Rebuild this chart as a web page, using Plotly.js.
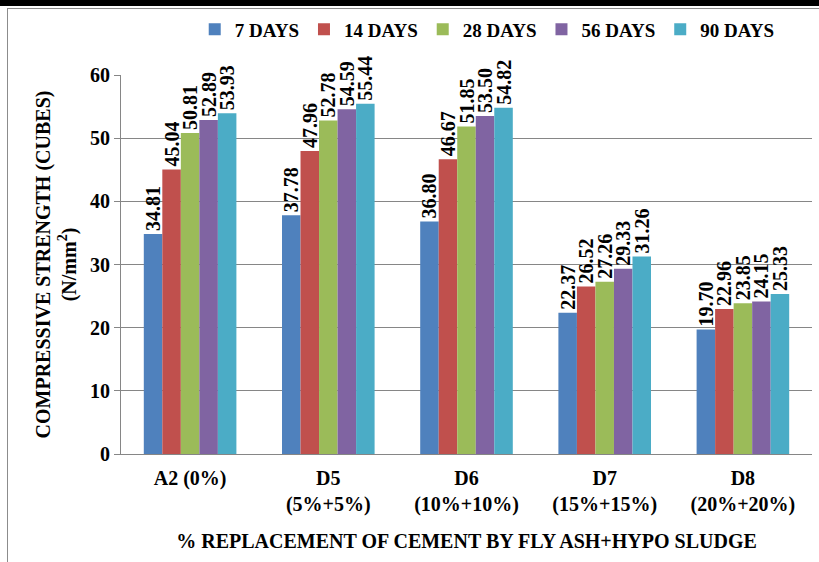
<!DOCTYPE html>
<html>
<head>
<meta charset="utf-8">
<script src="https://cdn.plot.ly/plotly-3.0.1.min.js"></script>
<style>
  html, body { margin: 0; padding: 0; background: #fff; }
  #wrap { position: relative; width: 819px; height: 562px; overflow: hidden; }
  #topband { position: absolute; left: 0; top: 0; width: 819px; height: 6px; background: #000; z-index: 2; }
  #frame { position: absolute; left: 7px; top: 8px; width: 830px; height: 600px; border: 1px solid #8c8c8c; box-sizing: border-box; z-index: 2; pointer-events: none; }
  #chart { position: absolute; left: 0; top: 0; width: 819px; height: 562px; z-index: 1; }
</style>
</head>
<body>
<div id="wrap">
  <div id="chart"></div>
  <div id="topband"></div>
  <div id="frame"></div>
</div>
<script>
// Mix designations (replacement of cement by fly ash + hypo sludge)
const categories = ["A2 (0%)", "D5<br>(5%+5%)", "D6<br>(10%+10%)", "D7<br>(15%+15%)", "D8<br>(20%+20%)"];

// Compressive strength of cubes, N/mm², by curing age
const days7  = [34.81, 37.78, 36.80, 22.37, 19.70];
const days14 = [45.04, 47.96, 46.67, 26.52, 22.96];
const days28 = [50.81, 52.78, 51.85, 27.26, 23.85];
const days56 = [52.89, 54.59, 53.50, 29.33, 24.15];
const days90 = [53.93, 55.44, 54.82, 31.26, 25.33];

const seriesNames = ["7 DAYS", "14 DAYS", "28 DAYS", "56 DAYS", "90 DAYS"];
const seriesValues = [days7, days14, days28, days56, days90];
const seriesColors = ["#4F81BD", "#C0504D", "#9BBB59", "#8064A2", "#4BACC6"];

const textFamily = "Liberation Serif";

const traces = seriesValues.map((vals, i) => ({
  type: "bar",
  name: seriesNames[i],
  x: categories,
  y: vals,
  marker: { color: seriesColors[i], line: { width: 0 } },
  text: vals.map(v => v.toFixed(2)),
  textposition: "outside",
  textangle: -90,
  constraintext: "none",
  cliponaxis: false,
  textfont: { family: textFamily, size: 20, color: "#000", weight: 700 },
  hoverinfo: "skip"
}));

const layout = {
  width: 819,
  height: 562,
  margin: { l: 121, r: 7, t: 75, b: 108 },
  paper_bgcolor: "#fff",
  plot_bgcolor: "#fff",
  font: { family: textFamily, size: 20, color: "#000", weight: 700 },
  barmode: "group",
  bargap: 0.33,
  bargroupgap: 0,
  showlegend: true,
  legend: {
    orientation: "h",
    x: 0.53, xanchor: "center",
    y: 1.12, yanchor: "middle",
    font: { family: textFamily, size: 19, color: "#000", weight: 700 },
    itemwidth: 30,
    tracegroupgap: 0,
    bgcolor: "rgba(0,0,0,0)"
  },
  xaxis: {
    type: "category",
    showgrid: false,
    showline: true,
    linecolor: "#868686",
    linewidth: 1,
    ticks: "",
    ticklabelstandoff: 6,
    tickfont: { family: textFamily, size: 20, color: "#000", weight: 700 },
    title: {
      text: "% REPLACEMENT OF CEMENT BY FLY ASH+HYPO SLUDGE",
      font: { family: textFamily, size: 20, color: "#000", weight: 700 },
      standoff: 18
    }
  },
  yaxis: {
    range: [0, 60],
    dtick: 10,
    tick0: 0,
    showgrid: true,
    gridcolor: "#868686",
    gridwidth: 1,
    showline: true,
    linecolor: "#868686",
    linewidth: 1,
    ticks: "outside",
    ticklen: 6,
    tickcolor: "#868686",
    zeroline: false,
    tickfont: { family: textFamily, size: 20, color: "#000", weight: 700 },
    title: {
      text: "COMPRESSIVE STRENGTH (CUBES)<br>(N/mm<sup>2</sup>)",
      font: { family: textFamily, size: 20, color: "#000", weight: 700 },
      standoff: 8
    }
  }
};

Plotly.newPlot("chart", traces, layout, { displayModeBar: false, staticPlot: true });
</script>
</body>
</html>
